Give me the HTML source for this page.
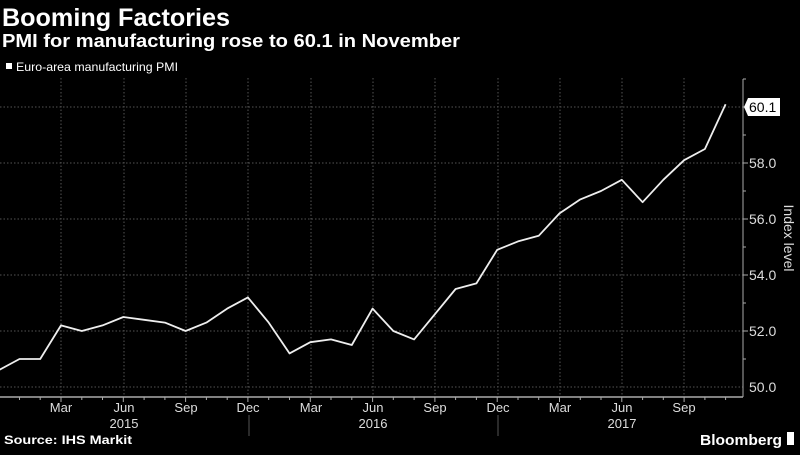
<!DOCTYPE html>
<html><head><meta charset="utf-8"><style>
body{margin:0;background:#000;width:800px;height:450px;overflow:hidden;font-family:"Liberation Sans",sans-serif;}
</style></head><body>
<svg width="800" height="450" xmlns="http://www.w3.org/2000/svg" font-family="Liberation Sans, sans-serif">
<rect width="800" height="450" fill="#000"/>
<text x="2" y="26" fill="#fff" font-size="25" font-weight="bold" textLength="228" lengthAdjust="spacingAndGlyphs">Booming Factories</text>
<text x="2" y="47" fill="#fff" font-size="18" font-weight="bold" textLength="458" lengthAdjust="spacingAndGlyphs">PMI for manufacturing rose to 60.1 in November</text>
<rect x="6" y="63" width="6" height="6" fill="#fff"/>
<text x="16" y="71" fill="#fff" font-size="12" textLength="162" lengthAdjust="spacingAndGlyphs">Euro-area manufacturing PMI</text>
<g stroke="#555" stroke-dasharray="1.5,2" stroke-width="1">
<line x1="0" x2="743" y1="387" y2="387"/><line x1="0" x2="743" y1="331" y2="331"/><line x1="0" x2="743" y1="275" y2="275"/><line x1="0" x2="743" y1="219" y2="219"/><line x1="0" x2="743" y1="163" y2="163"/><line x1="0" x2="743" y1="107" y2="107"/>
<line x1="61" x2="61" y1="78" y2="397"/><line x1="124" x2="124" y1="78" y2="397"/><line x1="186" x2="186" y1="78" y2="397"/><line x1="248" x2="248" y1="78" y2="397"/><line x1="311" x2="311" y1="78" y2="397"/><line x1="373" x2="373" y1="78" y2="397"/><line x1="435" x2="435" y1="78" y2="397"/><line x1="498" x2="498" y1="78" y2="397"/><line x1="560" x2="560" y1="78" y2="397"/><line x1="622" x2="622" y1="78" y2="397"/><line x1="684" x2="684" y1="78" y2="397"/>
</g>
<line x1="0" x2="743" y1="397" y2="397" stroke="#aaa" stroke-width="1.5"/>
<line x1="743" x2="743" y1="79" y2="397" stroke="#aaa" stroke-width="1"/>
<g stroke="#aaa" stroke-width="1" id="ticks"></g>
<polyline fill="none" stroke="#eee" stroke-width="1.8" stroke-linejoin="round" id="ln"/>
<g fill="#ddd" font-size="13" text-anchor="middle">
<text x="61" y="412">Mar</text><text x="124" y="412">Jun</text><text x="186" y="412">Sep</text><text x="248" y="412">Dec</text><text x="311" y="412">Mar</text><text x="373" y="412">Jun</text><text x="435" y="412">Sep</text><text x="498" y="412">Dec</text><text x="560" y="412">Mar</text><text x="622" y="412">Jun</text><text x="684" y="412">Sep</text>
<text x="124" y="428">2015</text><text x="373" y="428">2016</text><text x="622" y="428">2017</text>
</g>
<line x1="249" x2="249" y1="415" y2="436" stroke="#555"/><line x1="498" x2="498" y1="415" y2="436" stroke="#555"/>
<g fill="#ddd" font-size="14">
<text x="749" y="392">50.0</text><text x="749" y="336">52.0</text><text x="749" y="280">54.0</text><text x="749" y="224">56.0</text><text x="749" y="168">58.0</text>
</g>
<path d="M744 107 L748 98 H780 V116 H748 Z" fill="#fff"/>
<text x="749" y="112" fill="#000" font-size="14">60.1</text>
<text transform="translate(784,238) rotate(90)" fill="#ddd" font-size="14" text-anchor="middle">Index level</text>
<text x="4" y="444" fill="#fff" font-size="12" font-weight="bold" textLength="128" lengthAdjust="spacingAndGlyphs">Source: IHS Markit</text>
<text x="700" y="445" fill="#fff" font-size="15" font-weight="bold" textLength="82" lengthAdjust="spacingAndGlyphs">Bloomberg</text>
<rect x="787" y="432" width="7" height="13" fill="#fff"/>
</svg>
<script>
var d=[50.6,51.0,51.0,52.2,52.0,52.2,52.5,52.4,52.3,52.0,52.3,52.8,53.2,52.3,51.2,51.6,51.7,51.5,52.8,52.0,51.7,52.6,53.5,53.7,54.9,55.2,55.4,56.2,56.7,57.0,57.4,56.6,57.4,58.1,58.5,60.1];
var p=d.map(function(v,i){return (-1.3+i*20.77).toFixed(1)+","+(387-(v-50)*28).toFixed(1)}).join(" ");
document.getElementById("ln").setAttribute("points",p);
var t="";for(var i=0;i<36;i++){var x=(-1.3+i*20.77).toFixed(1);t+='<line x1="'+x+'" x2="'+x+'" y1="397" y2="'+(i%3==0?402:400)+'"/>';}
for(var v=51;v<=61;v++){var y=387-(v-50)*28;if(y>78)t+='<line x1="743" x2="'+(v%2==0?748:746)+'" y1="'+y+'" y2="'+y+'"/>';}
document.getElementById("ticks").innerHTML=t;
</script>
</body></html>
